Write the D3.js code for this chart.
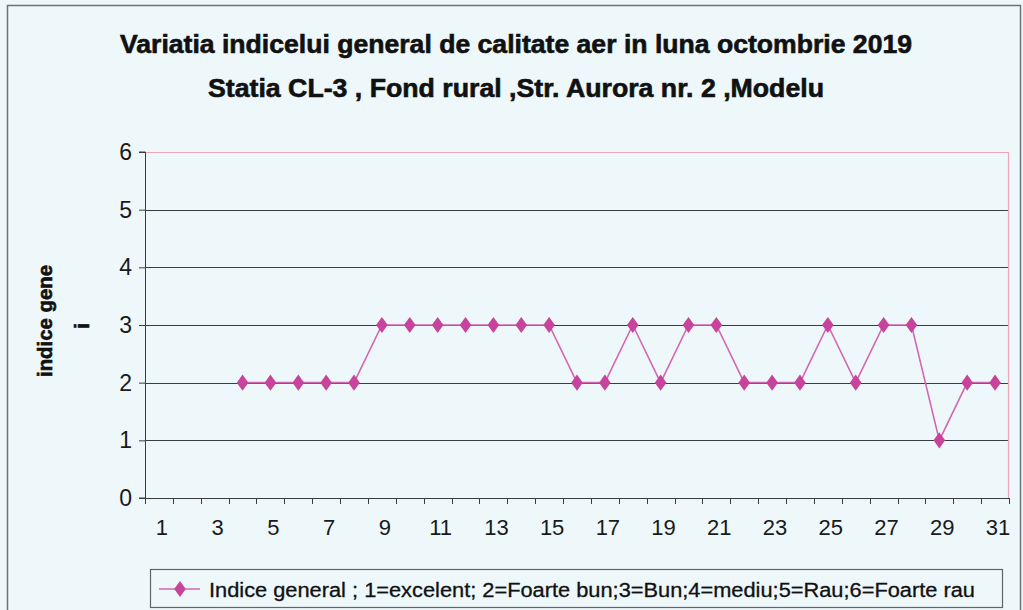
<!DOCTYPE html>
<html>
<head>
<meta charset="utf-8">
<script src="https://cdn.jsdelivr.net/npm/d3@7"></script>
<style>
  html, body { margin: 0; padding: 0; background: #eef8fb; }
  svg { display: block; font-family: 'Liberation Sans', Arial, sans-serif; }
</style>
</head>
<body>
<div id="chart"></div>
<script>
// Chart data
const days = d3.range(1, 32).map(String);
const indexValues = [null, null, null, 2, 2, 2, 2, 2, 3, 3, 3, 3, 3, 3, 3, 2, 2, 3, 2, 3, 3, 2, 2, 2, 3, 2, 3, 3, 1, 2, 2];
const yTicks = [0, 1, 2, 3, 4, 5, 6];
const titleLines = [
  'Variatia indicelui general de calitate aer in luna octombrie 2019',
  'Statia CL-3 , Fond rural ,Str. Aurora nr. 2 ,Modelu',
];
const yTitleLines = ['indice gene', 'i'];
const legendLabel = 'Indice  general ; 1=excelent; 2=Foarte bun;3=Bun;4=mediu;5=Rau;6=Foarte rau';

const data = days.map((d, i) => ({ day: d, value: indexValues[i] }));

const W = 1023;
const H = 610;
const margin = { top: 152, right: 14, bottom: 112, left: 145 };
const width = W - margin.left - margin.right;
const height = H - margin.top - margin.bottom;

const lineColor = '#d466b2';
const markerColor = '#c8439c';
const pinkBorder = '#eea3b6';

const svg = d3.select('#chart').append('svg')
  .attr('width', W)
  .attr('height', H);

// background and outer frame
svg.append('rect')
  .attr('width', W)
  .attr('height', H)
  .attr('fill', '#eef8fb');

svg.append('rect')
  .attr('x', 7.5)
  .attr('y', 5.5)
  .attr('width', 1013)
  .attr('height', 620)
  .attr('fill', 'none')
  .attr('stroke', '#6d7276')
  .attr('stroke-width', 1.5);

// Title
svg.append('g')
  .selectAll('text')
  .data(titleLines)
  .enter()
  .append('text')
  .attr('x', (d, i) => (i === 0 ? 120 : 208))
  .attr('y', (d, i) => (i === 0 ? 53 : 97))
  .attr('textLength', (d, i) => (i === 0 ? 792 : 616))
  .attr('lengthAdjust', 'spacingAndGlyphs')
  .attr('font-size', 25)
  .attr('font-weight', 'bold')
  .attr('fill', '#111')
  .attr('stroke', '#111')
  .attr('stroke-width', 0.6)
  .text(d => d);

// Scales
const x = d3.scaleBand().domain(days).range([0, width]);
const y = d3.scaleLinear().domain([0, 6]).range([height, 0]);

const plot = svg.append('g')
  .attr('transform', `translate(${margin.left}, ${margin.top})`);

// gridlines
plot.append('g')
  .selectAll('line')
  .data(yTicks.filter(t => t > 0 && t < 6))
  .enter()
  .append('line')
  .attr('x1', 0)
  .attr('x2', width)
  .attr('y1', d => Math.round(y(d)) + 0.5)
  .attr('y2', d => Math.round(y(d)) + 0.5)
  .attr('stroke', '#3a3d40')
  .attr('stroke-width', 1);

// pink top / right border of the plot area
plot.append('path')
  .attr('d', `M0,${y(6) + 0.5}H${width - 0.5}V${height}`)
  .attr('fill', 'none')
  .attr('stroke', pinkBorder)
  .attr('stroke-width', 1.2);

// Y axis
const yAxis = d3.axisLeft(y)
  .tickValues(yTicks)
  .tickSize(6)
  .tickPadding(7)
  .tickFormat(d3.format('d'));

const yAxisG = plot.append('g')
  .attr('class', 'axis axis--y')
  .call(yAxis);

yAxisG.select('.domain').attr('stroke', '#3a3d40').attr('d', `M-6,${height}H0.5V0H-6`);
yAxisG.selectAll('line').attr('stroke', '#3a3d40');
yAxisG.selectAll('text')
  .attr('font-size', 23)
  .attr('fill', '#1a1a1a')
  .attr('font-family', "'Liberation Sans', Arial, sans-serif");

// X axis: ticks on band edges, labels on odd days
const xAxisG = plot.append('g')
  .attr('class', 'axis axis--x')
  .attr('transform', `translate(0, ${height})`);

xAxisG.append('line')
  .attr('x1', 0)
  .attr('x2', width)
  .attr('y1', 0.5)
  .attr('y2', 0.5)
  .attr('stroke', '#3a3d40');

xAxisG.selectAll('.tick-mark')
  .data(days.concat(['end']))
  .enter()
  .append('line')
  .attr('class', 'tick-mark')
  .attr('x1', (d, i) => Math.round(i * x.bandwidth()) + 0.5)
  .attr('x2', (d, i) => Math.round(i * x.bandwidth()) + 0.5)
  .attr('y1', 0)
  .attr('y2', 6)
  .attr('stroke', '#3a3d40');

xAxisG.selectAll('.tick-label')
  .data(days.filter((d, i) => i % 2 === 0))
  .enter()
  .append('text')
  .attr('class', 'tick-label')
  .attr('x', d => x(d) + x.bandwidth() / 2 + 3)
  .attr('y', 37)
  .attr('text-anchor', 'middle')
  .attr('font-size', 22)
  .attr('fill', '#1a1a1a')
  .text(d => d);

// Y title (wrapped in two lines)
svg.append('g')
  .selectAll('text')
  .data(yTitleLines)
  .enter()
  .append('text')
  .attr('transform', (d, i) => (i === 0 ? 'translate(52, 321) rotate(-90)' : 'translate(89, 326) rotate(-90)'))
  .attr('text-anchor', 'middle')
  .attr('textLength', (d, i) => (i === 0 ? 112 : null))
  .attr('lengthAdjust', 'spacingAndGlyphs')
  .attr('font-size', 20)
  .attr('font-weight', 'bold')
  .attr('fill', '#111')
  .attr('stroke', '#111')
  .attr('stroke-width', 0.6)
  .text(d => d);

// series line
const line = d3.line()
  .defined(d => d.value !== null)
  .x(d => x(d.day) + x.bandwidth() / 2)
  .y(d => y(d.value));

plot.append('path')
  .datum(data)
  .attr('fill', 'none')
  .attr('stroke', lineColor)
  .attr('stroke-width', 1.6)
  .attr('d', line);

const diamond = d3.symbol().type(d3.symbolDiamond).size(75);

plot.append('g')
  .attr('class', 'dots')
  .selectAll('path')
  .data(data.filter(d => d.value !== null))
  .enter()
  .append('path')
  .attr('transform', d => `translate(${x(d.day) + x.bandwidth() / 2}, ${y(d.value)}) scale(1.25, 1)`)
  .attr('d', diamond)
  .attr('fill', markerColor);

// Legend
const legend = svg.append('g')
  .attr('transform', 'translate(150, 569)');

legend.append('rect')
  .attr('x', 0.5)
  .attr('y', 0.5)
  .attr('width', 852)
  .attr('height', 38)
  .attr('fill', '#eef8fb')
  .attr('stroke', '#5f6468')
  .attr('stroke-width', 1.2);

legend.append('line')
  .attr('x1', 9)
  .attr('x2', 50)
  .attr('y1', 20)
  .attr('y2', 20)
  .attr('stroke', lineColor)
  .attr('stroke-width', 1.6);

legend.append('path')
  .attr('transform', 'translate(30, 20) scale(1.25, 1)')
  .attr('d', diamond)
  .attr('fill', markerColor);

legend.append('text')
  .attr('x', 59)
  .attr('y', 28)
  .attr('textLength', 766)
  .attr('lengthAdjust', 'spacingAndGlyphs')
  .attr('font-size', 20)
  .attr('fill', '#111')
  .attr('stroke', '#111')
  .attr('stroke-width', 0.3)
  .text(legendLabel);
</script>
</body>
</html>
